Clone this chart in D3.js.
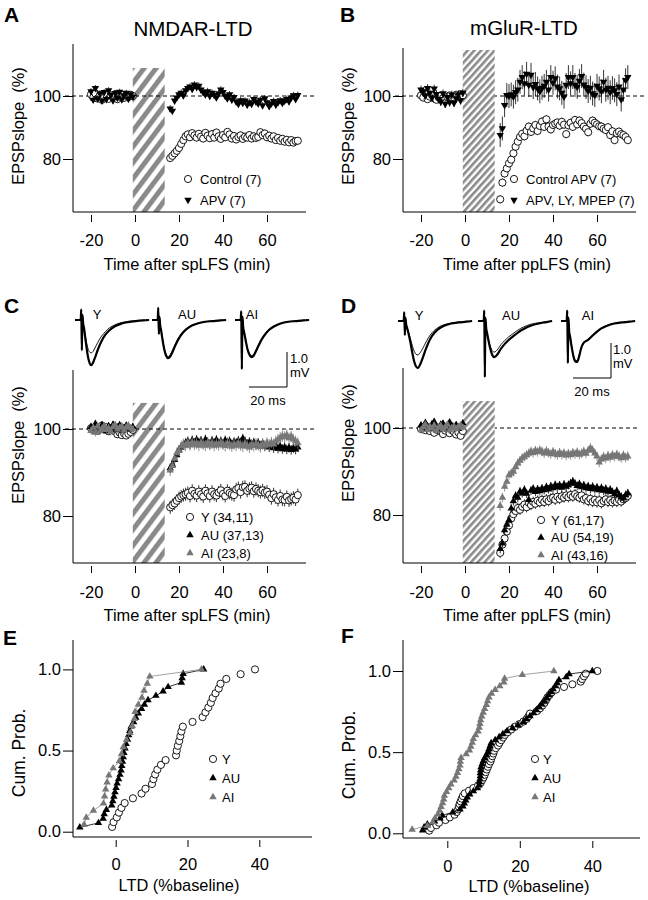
<!DOCTYPE html>
<html>
<head>
<meta charset="utf-8">
<script src="https://cdn.jsdelivr.net/npm/d3@7.9.0/dist/d3.min.js"></script>
<style>
  body { margin: 0; background: #fff; }
  svg { font-family: "Liberation Sans", Arial, Helvetica, sans-serif; }
  .pre { white-space: pre; }
</style>
</head>
<body>
<svg id="fig" width="648" height="900"></svg>
<script>
// ---- sampling + ticks ----
const baseTimes = d3.range(-20, 0);   // baseline, 1 point / min
const postTimes = d3.range(16, 75);   // after the LFS
const stimWindow = [-1, 13.5];        // LFS period (min)
const tickTime = [-20, 0, 20, 40, 60];
const tickPct = [80, 100];
const tickProb = [0, 0.5, 1];
const tickLTD = [0, 20, 40];

// ---- A: NMDAR-LTD ----
const aCtrlBase = [100.5, 99.5, 100.8, 99.2, 100.1, 98.8, 99.6, 100.4, 99.1, 100.2,
  99.5, 100.6, 99.0, 99.8, 100.3, 99.4, 100.1, 99.7, 100.4, 100.0];
const aCtrlPost = [80.3, 81.0, 81.8, 82.6, 83.5, 84.8, 86.0, 87.2, 87.8, 86.9,
  88.2, 87.5, 86.8, 88.0, 87.1, 86.5, 88.3, 87.4, 86.6, 87.9,
  86.8, 88.4, 87.2, 86.4, 87.6, 86.9, 88.6, 87.8, 86.5, 87.3,
  86.2, 87.0, 87.5, 86.4, 87.1, 86.8, 87.6, 86.5, 87.2, 86.7,
  87.0, 88.5, 87.6, 88.1, 86.9, 87.4, 86.5, 87.2, 86.0, 86.7,
  85.8, 86.4, 85.5, 86.1, 85.3, 86.0, 85.2, 85.7, 85.8];
const aApvBase = [101.5, 98.8, 102.5, 99.2, 100.8, 98.5, 101.2, 99.0, 101.8, 100.3,
  98.6, 100.9, 99.4, 101.3, 98.9, 100.2, 101.0, 99.1, 100.5, 99.8];
const aApvPost = [96.0, 95.3, 98.5, 99.5, 100.5, 101.0, 100.2, 101.8, 102.5, 103.0,
  102.2, 103.6, 102.8, 103.2, 102.0, 101.2, 100.5, 101.5, 100.0, 101.0,
  100.3, 99.5, 100.8, 102.0, 101.2, 100.0, 99.2, 100.5, 98.8, 99.6,
  98.2, 97.5, 98.6, 97.8, 98.5, 97.2, 98.0, 97.5, 99.0, 98.2,
  97.6, 98.8, 97.0, 99.2, 98.0, 96.8, 97.6, 98.4, 97.2, 98.0,
  98.6, 97.8, 98.5, 99.0, 98.3, 99.5, 100.2, 99.0, 100.3];

// ---- B: mGluR-LTD ----
const bCtrlBase = [100.2, 99.5, 100.8, 99.0, 99.8, 100.3, 99.2, 98.8, 99.6, 100.1,
  99.3, 98.9, 99.7, 100.2, 99.1, 99.5, 100.4, 99.8, 100.6, 100.2];
const bCtrlPost = [67.2, 72.5, 75.4, 77.0, 78.6, 79.8, 81.8, 83.9, 85.5, 87.0,
  88.0, 87.2, 89.0, 90.3, 88.6, 89.7, 90.8, 88.9, 90.5, 91.9,
  90.2, 92.6, 90.3, 89.4, 90.8, 91.2, 91.6, 90.6, 91.8, 90.9,
  87.9, 90.7, 91.5, 90.2, 92.4, 91.0, 92.2, 91.4, 90.3, 89.6,
  88.5, 91.2, 92.2, 91.5, 91.0, 90.4, 90.3, 89.6, 89.2, 90.1,
  87.6, 88.8, 86.0, 88.2, 88.7, 87.9, 87.6, 87.0, 86.0];
const bBlkBase = [102.0, 101.5, 100.2, 102.5, 101.0, 99.5, 102.3, 100.6, 99.0, 98.2,
  100.8, 97.5, 99.6, 98.0, 100.4, 97.8, 99.2, 100.5, 98.6, 101.0];
const bBlkPost = [87.6, 89.7, 97.1, 100.3, 100.0, 100.5, 99.8, 101.2, 102.0, 104.5,
  106.0, 104.0, 107.0, 103.5, 106.7, 102.8, 103.8, 102.4, 101.5, 102.6,
  103.2, 104.5, 102.0, 106.0, 104.2, 105.6, 103.0, 102.4, 101.0, 99.8,
  103.5, 106.0, 104.0, 106.0, 103.5, 102.9, 104.8, 106.3, 103.6, 102.8,
  101.6, 102.6, 100.8, 100.3, 103.2, 102.4, 101.5, 104.5, 102.0, 102.6,
  101.2, 102.5, 101.8, 100.6, 103.0, 98.9, 102.0, 105.0, 106.0];

// ---- C: spLFS by age group ----
const cYBase = [100.2, 99.8, 100.5, 99.6, 100.3, 100.8, 99.9, 100.4, 99.5, 100.1,
  99.8, 99.4, 98.8, 99.2, 98.6, 99.0, 98.5, 98.9, 99.3, 99.8];
const cYPost = [82.0, 82.5, 82.9, 83.5, 84.1, 84.5, 84.8, 85.0, 85.3, 84.6,
  85.8, 85.1, 84.7, 85.6, 85.0, 84.5, 85.8, 85.2, 84.6, 85.6,
  85.0, 84.7, 85.4, 85.9, 85.1, 84.6, 85.8, 85.3, 85.0, 84.8,
  86.1, 86.4, 85.5, 86.6, 86.7, 85.8, 86.3, 86.5, 85.7, 86.2,
  85.8, 85.5, 85.9, 85.4, 85.6, 84.9, 84.1, 85.0, 84.3, 83.7,
  84.6, 83.8, 83.7, 84.4, 83.6, 83.9, 84.2, 83.8, 84.8];
const cAUBase = [100.5, 99.8, 101.2, 100.4, 99.6, 100.9, 100.2, 99.5, 100.7, 100.1,
  101.0, 99.8, 100.4, 100.9, 99.7, 100.3, 100.8, 100.2, 99.9, 100.5];
const cAUPost = [91.0, 91.8, 92.9, 94.0, 95.2, 95.8, 96.3, 96.8, 97.2, 96.5,
  97.4, 96.8, 97.5, 96.9, 97.3, 96.6, 97.6, 97.0, 96.5, 97.3,
  96.8, 97.5, 96.7, 97.2, 96.6, 97.4, 96.9, 97.2, 96.5, 97.0,
  96.8, 97.3, 96.9, 97.8, 97.2, 96.6, 97.0, 96.4, 96.9, 96.3,
  96.8, 96.2, 96.7, 96.0, 96.5, 95.8, 96.3, 95.6, 96.1, 95.5,
  96.0, 95.4, 95.8, 95.3, 95.7, 95.2, 95.6, 95.3, 95.8];
const cAIBase = [99.6, 100.3, 99.2, 100.6, 99.5, 100.1, 100.7, 99.8, 100.2, 99.4,
  100.5, 100.9, 99.9, 100.3, 100.6, 99.7, 100.4, 100.8, 100.2, 100.0];
const cAIPost = [90.5, 91.5, 93.2, 94.5, 95.0, 96.0, 96.5, 96.2, 96.8, 96.3,
  96.9, 96.4, 96.7, 96.2, 96.8, 96.5, 96.2, 96.8, 96.4, 96.7,
  96.2, 96.6, 96.3, 96.8, 96.5, 96.1, 96.7, 96.4, 96.0, 96.5,
  96.2, 96.7, 96.3, 96.0, 96.6, 96.2, 95.8, 96.4, 96.1, 96.6,
  96.3, 95.9, 96.5, 96.2, 96.8, 96.4, 96.9, 96.5, 97.2, 97.6,
  98.0, 98.4, 98.2, 98.6, 97.9, 98.3, 97.6, 97.2, 96.8];

// ---- D: ppLFS by age group ----
const dYBase = [99.8, 100.2, 99.5, 99.9, 99.3, 100.1, 98.9, 99.6, 100.0, 99.2,
  98.6, 99.4, 99.8, 98.8, 99.5, 99.1, 98.5, 99.0, 98.2, 99.3];
const dYPost = [71.3, 73.2, 74.6, 76.2, 77.6, 79.2, 80.2, 80.9, 81.6, 81.2,
  81.9, 82.4, 81.8, 82.8, 82.3, 83.0, 82.6, 83.3, 82.9, 83.5,
  83.0, 83.6, 83.2, 83.8, 84.0, 83.5, 84.2, 83.7, 84.3, 84.0,
  84.5, 84.1, 84.6, 84.2, 84.8, 84.3, 84.0, 84.5, 83.6, 83.9,
  83.2, 83.7, 83.0, 83.5, 82.9, 83.4, 82.7, 83.2, 83.6, 83.0,
  83.4, 82.9, 83.3, 83.0, 83.5, 83.1, 83.6, 83.9, 84.4];
const dAUBase = [100.6, 100.0, 101.2, 100.4, 99.8, 100.9, 101.4, 100.2, 99.6, 100.8,
  101.0, 100.3, 99.9, 101.3, 100.5, 100.1, 100.7, 99.8, 100.4, 101.1];
const dAUPost = [72.2, 73.5, 76.5, 77.8, 78.8, 81.5, 83.2, 84.4, 84.0, 85.4,
  85.0, 85.8, 84.9, 83.5, 85.6, 86.0, 85.3, 85.9, 85.5, 86.1,
  85.7, 86.4, 85.9, 86.6, 86.2, 86.9, 86.4, 86.8, 86.3, 87.0,
  86.5, 86.9, 87.3, 87.7, 87.2, 86.7, 87.1, 86.4, 86.8, 86.2,
  86.6, 86.0, 86.5, 85.9, 86.3, 85.7, 86.2, 85.6, 86.0, 85.4,
  85.8, 85.3, 84.8, 85.5, 84.6, 84.2, 83.8, 84.6, 85.0];
const dAIBase = [99.5, 100.2, 100.8, 99.6, 100.3, 99.9, 100.6, 99.4, 100.1, 100.5,
  99.7, 100.2, 100.8, 99.5, 100.0, 100.4, 99.8, 100.3, 100.6, 100.1];
const dAIPost = [82.1, 84.0, 86.5, 87.7, 89.2, 89.6, 90.0, 91.0, 91.9, 92.5,
  93.1, 93.4, 93.8, 94.2, 94.6, 94.3, 94.8, 94.5, 94.9, 94.6,
  94.2, 94.7, 94.3, 94.0, 94.5, 94.1, 93.8, 94.3, 93.9, 94.2,
  93.7, 94.1, 93.8, 94.3, 94.0, 94.4, 93.9, 94.2, 94.6, 94.1,
  94.8, 95.4, 94.9, 94.2, 93.5, 92.1, 92.8, 93.4, 93.0, 93.6,
  93.2, 93.8, 93.4, 93.9, 93.5, 93.1, 93.7, 93.2, 93.5];

// ---- E / F: LTD per slice (%baseline), sorted ----
const eY = [-1.0, -0.6, 0.3, 0.9, 1.6, 2.5, 4.8, 7.2, 8.3, 10.1, 10.5, 11.0, 11.6, 12.6,
  13.9, 16.8, 17.0, 17.3, 17.7, 18.0, 18.3, 18.7, 21.4, 24.2, 25.0, 25.8, 26.5, 27.0,
  27.8, 28.7, 29.2, 30.8, 34.8, 38.8];
const eAU = [-10.0, -4.8, -3.5, -3.2, -2.6, -1.1, -0.8, -0.5, -0.2, 0.1, 0.4, 0.8, 1.2,
  1.5, 1.7, 1.9, 2.1, 2.3, 2.6, 2.9, 3.3, 3.6, 3.9, 4.3, 5.0, 5.6, 6.3, 7.2, 8.0, 9.0,
  11.2, 13.2, 14.6, 18.3, 18.5, 18.8, 24.5];
const eAI = [-8.8, -8.2, -6.2, -3.4, -3.1, -2.8, -2.4, -1.9, -0.7, 1.0, 1.6, 2.1, 3.0,
  4.0, 4.6, 5.2, 5.4, 6.3, 7.3, 7.9, 8.8, 9.5, 23.9];
const fY = [-5.0, -4.5, -3.0, -2.3, -0.5, 0.7, 2.0, 2.6, 3.0, 3.2, 3.4, 3.7, 4.0, 4.3,
  4.8, 6.0, 7.2, 8.5, 9.2, 9.6, 10.0, 10.3, 10.6, 10.9, 11.2, 11.5, 11.9, 12.1, 12.4,
  12.7, 12.9, 13.4, 14.0, 14.4, 14.9, 15.4, 15.9, 16.7, 17.6, 18.6, 19.8, 21.0, 21.9,
  22.4, 22.8, 24.8, 25.6, 26.2, 26.8, 27.2, 27.6, 28.2, 28.8, 30.0, 32.2, 34.5, 36.8,
  37.2, 37.7, 38.2, 41.4];
const fAU = [-6.8, -6.4, -5.5, -3.5, -2.0, -1.4, 1.5, 3.5, 4.3, 4.7, 5.1, 5.5, 6.2, 7.2,
  8.3, 8.8, 8.9, 9.0, 9.1, 9.1, 9.2, 9.3, 9.6, 9.9, 10.3, 10.8, 11.2, 11.5, 11.8, 12.1,
  13.2, 14.3, 15.3, 16.5, 18.0, 19.5, 21.0, 21.8, 22.8, 23.8, 24.6, 25.4, 26.0, 26.8,
  27.4, 28.0, 28.6, 29.2, 29.8, 30.3, 30.8, 32.8, 33.6, 40.0];
const fAI = [-9.7, -5.5, -4.0, -3.4, -2.6, -2.1, -1.7, -1.3, -1.0, -0.8, -0.2, 0.4, 1.0,
  1.9, 2.4, 2.8, 3.2, 3.5, 3.6, 3.8, 5.2, 6.1, 6.5, 6.9, 7.2, 7.8, 8.5, 8.8, 9.0, 9.2,
  9.5, 9.9, 10.3, 10.8, 11.1, 11.5, 12.2, 13.2, 14.5, 15.6, 15.8, 20.7, 29.4];

// ---- sample EPSPs (mV), before (thin) / after (thick) LFS ----
const traceT = [0, 3.0, 3.3, 3.6, 3.9, 4.3, 4.8, 5.5, 6.5, 7.5, 8.5, 9.5, 10.5, 12, 14, 16, 18, 21, 24, 28, 32, 36, 39];
const cYThick = [0, 0, 0.3, -0.86, 0.15, -0.1, -0.25, -0.55, -0.95, -1.2, -1.29, -1.22, -1.08, -0.85, -0.6, -0.42, -0.3, -0.18, -0.11, -0.06, -0.03, -0.01, 0];
const cYThin = [0, 0, 0.3, -0.86, 0.15, -0.1, -0.25, -0.48, -0.75, -0.9, -0.94, -0.9, -0.8, -0.64, -0.46, -0.33, -0.23, -0.14, -0.08, -0.04, -0.02, -0.01, 0];
const cAUThick = [0, 0, 0.35, -0.4, 0.1, -0.15, -0.3, -0.55, -0.85, -1.03, -1.09, -1.05, -0.95, -0.76, -0.54, -0.38, -0.27, -0.16, -0.1, -0.05, -0.03, -0.01, 0];
const cAUThin = [0, 0, 0.35, -0.4, 0.1, -0.15, -0.3, -0.53, -0.82, -0.99, -1.05, -1.0, -0.9, -0.72, -0.51, -0.36, -0.25, -0.15, -0.09, -0.05, -0.02, -0.01, 0];
const cAIThick = [0, 0, 0.25, -1.4, 0.1, -0.2, -0.35, -0.55, -0.82, -0.98, -1.06, -1.04, -0.95, -0.78, -0.56, -0.4, -0.28, -0.17, -0.1, -0.05, -0.03, -0.01, 0];
const cAIThin = [0, 0, 0.25, -1.4, 0.1, -0.2, -0.35, -0.53, -0.8, -0.95, -1.02, -1.0, -0.92, -0.75, -0.55, -0.39, -0.27, -0.16, -0.1, -0.05, -0.03, -0.01, 0];
const dYThick = [0, 0, 0.25, -0.4, 0.1, -0.1, -0.2, -0.35, -0.6, -0.9, -1.15, -1.3, -1.34, -1.2, -0.9, -0.62, -0.42, -0.24, -0.14, -0.07, -0.04, -0.02, 0];
const dYThin = [0, 0, 0.25, -0.4, 0.1, -0.1, -0.2, -0.32, -0.5, -0.7, -0.86, -0.95, -0.97, -0.88, -0.68, -0.48, -0.33, -0.19, -0.11, -0.06, -0.03, -0.01, 0];
const dAUThick = [0, 0, 0.3, -1.6, 0.1, -0.2, -0.35, -0.55, -0.8, -0.97, -1.03, -1.0, -0.93, -0.8, -0.66, -0.55, -0.46, -0.33, -0.23, -0.13, -0.07, -0.03, 0];
const dAUThin = [0, 0, 0.3, -1.6, 0.1, -0.2, -0.35, -0.52, -0.73, -0.85, -0.89, -0.86, -0.8, -0.68, -0.56, -0.46, -0.38, -0.26, -0.17, -0.09, -0.05, -0.02, 0];
const dAIThick = [0, 0, 0.3, -1.2, 0.1, -0.3, -0.45, -0.7, -1.0, -1.15, -1.17, -1.02, -0.8, -0.62, -0.55, -0.45, -0.35, -0.22, -0.14, -0.07, -0.04, -0.02, 0];
const dAIThin = [0, 0, 0.3, -1.2, 0.1, -0.3, -0.45, -0.68, -0.97, -1.12, -1.14, -1.0, -0.79, -0.61, -0.53, -0.43, -0.33, -0.21, -0.13, -0.07, -0.04, -0.02, 0];

// ---------------------------------------------------------------
const svg = d3.select('#fig');
const GRAY = '#777';
const HATCH = '#8a8a8a';
const tri = d3.symbol().type(d3.symbolTriangle).size(24)();

const defs = svg.append('defs');
function stripes(id, period, angle) {
  const p = defs.append('pattern')
    .attr('id', id)
    .attr('patternUnits', 'userSpaceOnUse')
    .attr('width', period).attr('height', period)
    .attr('patternTransform', `rotate(${angle})`);
  p.append('rect').attr('width', period).attr('height', period).attr('fill', '#fff');
  p.append('rect').attr('width', period * 0.52).attr('height', period).attr('fill', HATCH);
}
stripes('hatchWide', 9.6, 37);
stripes('hatchFine', 5, 42);

function text(g, str, x, y, size, opts = {}) {
  const t = g.append('text').attr('x', x).attr('y', y).attr('font-size', size).text(str);
  if (opts.anchor) t.attr('text-anchor', opts.anchor);
  if (opts.bold) t.attr('font-weight', 'bold');
  if (opts.rotate) t.attr('transform', `rotate(-90,${x},${y})`).attr('class', 'pre');
  if (opts.fill) t.attr('fill', opts.fill);
  return t;
}

function markers(g, pts, type, color, x, y) {
  if (type === 'circle') {
    g.selectAll(null).data(pts).join('circle')
      .attr('cx', d => x(d[0])).attr('cy', d => y(d[1]))
      .attr('r', 3.6)
      .attr('fill', '#fff').attr('stroke', '#000').attr('stroke-width', 0.9);
  } else {
    g.selectAll(null).data(pts).join('path')
      .attr('d', tri)
      .attr('transform', d => `translate(${x(d[0])},${y(d[1])})` + (type === 'down' ? ' rotate(180)' : ''))
      .attr('fill', color);
  }
}

function axes(g, box, x, y, xt, yt, yfmt) {
  g.append('line').attr('x1', box.l).attr('x2', box.r).attr('y1', box.b).attr('y2', box.b).attr('stroke', '#000');
  g.append('line').attr('x1', box.l).attr('x2', box.l).attr('y1', box.t).attr('y2', box.b).attr('stroke', '#000');

  const xa = g.append('g').attr('transform', `translate(0,${box.b + 3})`)
    .call(d3.axisBottom(x).tickValues(xt).tickSize(7).tickSizeOuter(0).tickFormat(d => String(d)));
  xa.select('.domain').remove();
  xa.attr('font-size', 16.5).attr('font-family', null);
  xa.selectAll('text').attr('y', box.xLab).attr('dy', 0);

  const ya = g.append('g').attr('transform', `translate(${box.l},0)`)
    .call(d3.axisLeft(y).tickValues(yt).tickSize(10).tickPadding(2).tickFormat(yfmt));
  ya.select('.domain').remove();
  ya.attr('font-size', 16.5).attr('font-family', null);
}

function legend(g, L) {
  L.items.forEach((it, i) => {
    const cy = L.y + i * L.dy;
    markers(g, [[L.x, cy]], it.type, it.color, d => d, d => d);
    text(g, it.label, L.x + L.tx, cy + 4.6, L.size);
  });
}

// ---- time-course panels (A-D) ----
function timePanel(p) {
  const g = svg.append('g');
  const x = d3.scaleLinear().domain([-20, 60]).range(p.xr);
  const y = d3.scaleLinear().domain([80, 100]).range(p.yr);
  const box = p.box;

  const dash = () => g.append('line')
    .attr('x1', box.l - 8).attr('x2', p.dashEnd)
    .attr('y1', y(100)).attr('y2', y(100))
    .attr('stroke', '#000').attr('stroke-width', 1).attr('stroke-dasharray', '4,3');

  if (!p.dashOver) dash();
  g.append('rect')
    .attr('x', x(stimWindow[0])).attr('width', x(stimWindow[1]) - x(stimWindow[0]))
    .attr('y', y(p.hatchTop)).attr('height', box.b - y(p.hatchTop))
    .attr('fill', `url(#${p.hatch})`);
  if (p.dashOver) dash();

  p.series.forEach(s => {
    const pts = s.base.map((v, i) => [baseTimes[i], v, s.errBase])
      .concat(s.post.map((v, i) => [postTimes[i], v, s.err]));
    const sg = g.append('g');
    sg.selectAll(null).data(pts).join('line')
      .attr('x1', d => x(d[0])).attr('x2', d => x(d[0]))
      .attr('y1', d => y(d[1] - d[2])).attr('y2', d => y(d[1] + d[2]))
      .attr('stroke', s.type === 'circle' ? '#000' : s.color).attr('stroke-width', 0.8);
    markers(sg, pts, s.type, s.color, x, y);
  });

  axes(g, box, x, y, tickTime, tickPct, d3.format('d'));
  text(g, p.xLabel, p.xLabelX, box.b + 58, 16.4, { anchor: 'middle' });
  text(g, 'EPSPslope  (%)', p.yLabelX, p.yLabelY, 16.4, { anchor: 'middle', rotate: true });
  legend(g, p.legend);
}

// ---- cumulative panels (E-F) ----
function cdfPanel(p) {
  const g = svg.append('g');
  const x = d3.scaleLinear().domain([0, 40]).range(p.xr);
  const y = d3.scaleLinear().domain([0, 1]).range(p.yr);
  p.series.forEach(s => {
    const pts = s.vals.map((v, i) => [v, (i + 1) / s.vals.length]);
    const sg = g.append('g');
    if (s.joined) {
      sg.append('path')
        .attr('d', d3.line().x(d => x(d[0])).y(d => y(d[1]))(pts))
        .attr('fill', 'none').attr('stroke', s.color === GRAY ? '#8c8c8c' : '#000').attr('stroke-width', 0.8);
    }
    markers(sg, pts, s.type, s.color, x, y);
  });
  const box = p.box;
  axes(g, box, x, y, tickLTD, tickProb, d3.format('.1f'));
  text(g, 'LTD (%baseline)', p.xLabelX, box.b + 54, 16.4, { anchor: 'middle' });
  text(g, 'Cum. Prob.', p.yLabelX, p.yLabelY, 17.5, { anchor: 'middle', rotate: true });
  legend(g, p.legend);
}

// ---- EPSP sample traces ----
function traces(set, base) {
  const g = svg.append('g');
  set.forEach(tr => {
    const xs = d3.scaleLinear().domain([0, 20]).range([tr.x0, tr.x0 + 38]);
    const ys = d3.scaleLinear().domain([0, -1]).range([base, base + 35]);
    const line = d3.line().x((d, j) => xs(traceT[j])).y(d => ys(d)).curve(d3.curveMonotoneX);
    g.append('path').attr('d', line(tr.thick)).attr('fill', 'none').attr('stroke', '#000').attr('stroke-width', 2.2);
    g.append('path').attr('d', line(tr.thin)).attr('fill', 'none').attr('stroke', '#000').attr('stroke-width', 0.9);
    text(g, tr.label, tr.lx, base - 1, 13, { anchor: 'middle' });
  });
}

function scaleBar(g, x, yTop, yBot, labX, mvY, msY) {
  g.append('path').attr('d', `M${x},${yTop}V${yBot}H${x - 38}`).attr('fill', 'none').attr('stroke', '#000');
  text(g, '1.0', labX, mvY, 13);
  text(g, 'mV', labX, mvY + 14, 13);
  text(g, '20 ms', x - 19, msY, 13, { anchor: 'middle' });
}

// ---------------- build the figure ----------------
timePanel({
  xr: [91, 267], yr: [159, 96], box: { l: 73, r: 306, t: 44, b: 212, xLab: 31 },
  hatch: 'hatchWide', hatchTop: 108.9, dashEnd: 317, dashOver: true,
  series: [
    { base: aCtrlBase, post: aCtrlPost, type: 'circle', color: '#000', err: 1.2, errBase: 0.8 },
    { base: aApvBase, post: aApvPost, type: 'down', color: '#000', err: 1.1, errBase: 1.0 }
  ],
  xLabel: 'Time after spLFS (min)', xLabelX: 187, yLabelX: 24, yLabelY: 126,
  legend: { x: 188, y: 179, dy: 21, tx: 12, size: 13, items: [
    { type: 'circle', color: '#000', label: 'Control (7)' },
    { type: 'down', color: '#000', label: 'APV (7)' }] }
});

timePanel({
  xr: [421, 597], yr: [159, 96], box: { l: 403, r: 636, t: 48, b: 212, xLab: 31 },
  hatch: 'hatchFine', hatchTop: 114.6, dashEnd: 645, dashOver: false,
  series: [
    { base: bCtrlBase, post: bCtrlPost, type: 'circle', color: '#000', err: 1.3, errBase: 0.8 },
    { base: bBlkBase, post: bBlkPost, type: 'down', color: '#000', err: 3.8, errBase: 1.3 }
  ],
  xLabel: 'Time after ppLFS (min)', xLabelX: 527, yLabelX: 354, yLabelY: 126,
  legend: { x: 514, y: 179, dy: 21, tx: 12, size: 13, items: [
    { type: 'circle', color: '#000', label: 'Control APV (7)' },
    { type: 'down', color: '#000', label: 'APV, LY, MPEP (7)' }] }
});

timePanel({
  xr: [91, 267], yr: [516, 429], box: { l: 73, r: 306, t: 370, b: 563, xLab: 32 },
  hatch: 'hatchWide', hatchTop: 106, dashEnd: 315, dashOver: true,
  series: [
    { base: cYBase, post: cYPost, type: 'circle', color: '#000', err: 1.5, errBase: 0.8 },
    { base: cAUBase, post: cAUPost, type: 'up', color: '#000', err: 1.1, errBase: 0.8 },
    { base: cAIBase, post: cAIPost, type: 'up', color: GRAY, err: 1.3, errBase: 0.9 }
  ],
  xLabel: 'Time after spLFS (min)', xLabelX: 187, yLabelX: 24, yLabelY: 445,
  legend: { x: 190, y: 517, dy: 18, tx: 11, size: 13, items: [
    { type: 'circle', color: '#000', label: 'Y (34,11)' },
    { type: 'up', color: '#000', label: 'AU (37,13)' },
    { type: 'up', color: GRAY, label: 'AI (23,8)' }] }
});

timePanel({
  xr: [421, 597], yr: [515, 428], box: { l: 403, r: 636, t: 368, b: 563, xLab: 32 },
  hatch: 'hatchFine', hatchTop: 106.2, dashEnd: 637, dashOver: false,
  series: [
    { base: dYBase, post: dYPost, type: 'circle', color: '#000', err: 1.2, errBase: 0.8 },
    { base: dAUBase, post: dAUPost, type: 'up', color: '#000', err: 1.0, errBase: 0.8 },
    { base: dAIBase, post: dAIPost, type: 'up', color: GRAY, err: 1.1, errBase: 0.8 }
  ],
  xLabel: 'Time after ppLFS (min)', xLabelX: 527, yLabelX: 354, yLabelY: 443,
  legend: { x: 541, y: 520, dy: 17.5, tx: 10, size: 13, items: [
    { type: 'circle', color: '#000', label: 'Y (61,17)' },
    { type: 'up', color: '#000', label: 'AU (54,19)' },
    { type: 'up', color: GRAY, label: 'AI (43,16)' }] }
});

cdfPanel({
  xr: [115.7, 259.3], yr: [831.7, 669.4], box: { l: 73, r: 312, t: 640, b: 837, xLab: 30 },
  series: [
    { vals: eY, type: 'circle', color: '#000', joined: false },
    { vals: eAU, type: 'up', color: '#000', joined: true },
    { vals: eAI, type: 'up', color: GRAY, joined: true }
  ],
  xLabelX: 179, yLabelX: 25, yLabelY: 753,
  legend: { x: 213, y: 759, dy: 19, tx: 9, size: 13, items: [
    { type: 'circle', color: '#000', label: 'Y' },
    { type: 'up', color: '#000', label: 'AU' },
    { type: 'up', color: GRAY, label: 'AI' }] }
});

cdfPanel({
  xr: [447.3, 592.3], yr: [833.3, 671], box: { l: 403, r: 640, t: 640, b: 838, xLab: 31 },
  series: [
    { vals: fY, type: 'circle', color: '#000', joined: false },
    { vals: fAU, type: 'up', color: '#000', joined: true },
    { vals: fAI, type: 'up', color: GRAY, joined: true }
  ],
  xLabelX: 529, yLabelX: 355, yLabelY: 755,
  legend: { x: 535, y: 759, dy: 19, tx: 8, size: 13, items: [
    { type: 'circle', color: '#000', label: 'Y' },
    { type: 'up', color: '#000', label: 'AU' },
    { type: 'up', color: GRAY, label: 'AI' }] }
});

traces([
  { x0: 75, thick: cYThick, thin: cYThin, label: 'Y', lx: 97 },
  { x0: 152, thick: cAUThick, thin: cAUThin, label: 'AU', lx: 187 },
  { x0: 235, thick: cAIThick, thin: cAIThin, label: 'AI', lx: 252 }
], 320);
traces([
  { x0: 398, thick: dYThick, thin: dYThin, label: 'Y', lx: 419 },
  { x0: 478, thick: dAUThick, thin: dAUThin, label: 'AU', lx: 511 },
  { x0: 561, thick: dAIThick, thin: dAIThin, label: 'AI', lx: 588 }
], 321);

const misc = svg.append('g');
scaleBar(misc, 287, 352, 387, 290, 363, 405);
scaleBar(misc, 611, 343, 378, 613, 354, 396);

text(misc, 'NMDAR-LTD', 193, 36, 20.5, { anchor: 'middle' });
text(misc, 'mGluR-LTD', 524, 35, 20.5, { anchor: 'middle' });

[['A', 4, 22], ['B', 340, 22], ['C', 4, 313], ['D', 341, 313], ['E', 3, 645], ['F', 341, 643]]
  .forEach(([l, x, y]) => text(misc, l, x, y, 21, { bold: true }));
</script>
</body>
</html>
